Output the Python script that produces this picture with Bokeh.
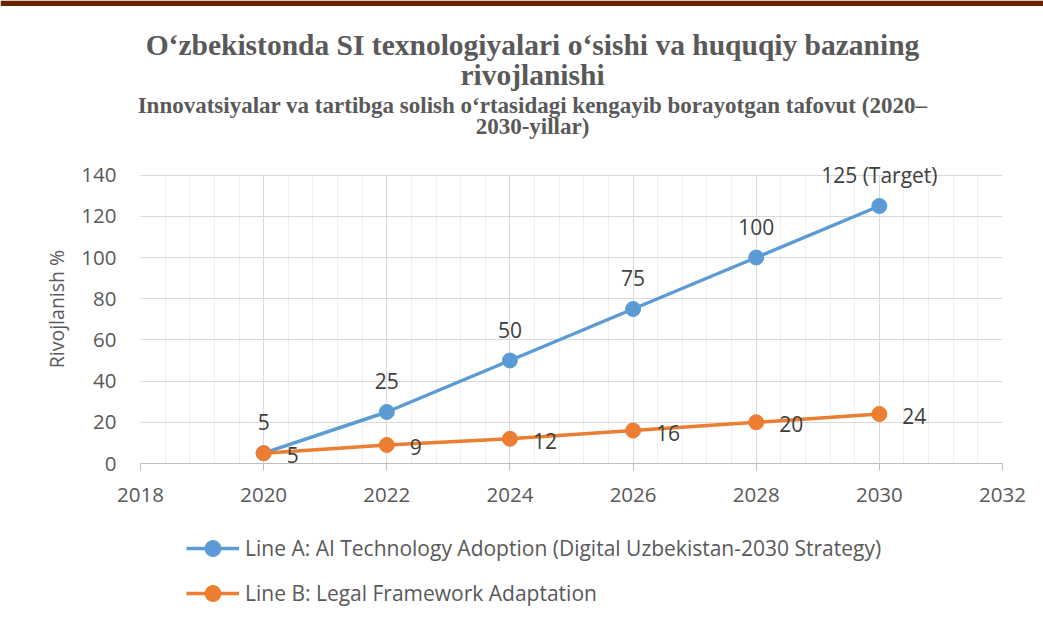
from bokeh.plotting import figure
from bokeh.models import (ColumnDataSource, LabelSet, Label, Legend, LegendItem,
                          SingleIntervalTicker, Range1d, BoxAnnotation)
from bokeh.core.properties import value
from bokeh.layouts import column
from bokeh.embed import file_html
from bokeh.resources import INLINE

years = [2020, 2022, 2024, 2026, 2028, 2030]
line_a = [5, 25, 50, 75, 100, 125]
line_b = [5, 9, 12, 16, 20, 24]
labels_a = ["5", "25", "50", "75", "100", "125 (Target)"]
labels_b = ["5", "9", "12", "16", "20", "24"]
name_a = "Line A: AI Technology Adoption (Digital Uzbekistan-2030 Strategy)"
name_b = "Line B: Legal Framework Adaptation"
title_lines = ["O\u2018zbekistonda SI texnologiyalari o\u2018sishi va huquqiy bazaning",
               "rivojlanishi"]
subtitle_lines = ["Innovatsiyalar va tartibga solish o\u2018rtasidagi kengayib borayotgan tafovut (2020\u2013",
                  "2030-yillar)"]
y_label = "Rivojlanish %"

FONT = "Open Sans"
SERIF = "Liberation Serif"
GREY = "#595959"
BLUE = "#5b9bd5"
ORANGE = "#ed7d31"

src_a = ColumnDataSource(dict(x=years, y=line_a, lab=labels_a))
src_b = ColumnDataSource(dict(x=years, y=line_b, lab=labels_b))

FRAME_LEFT = 140
FRAME_RIGHT = 41
unaligned = True


def blank(height):
    global unaligned
    f = figure(width=1043, height=height, output_backend="svg", toolbar_location=None,
               min_border=0, x_axis_type=None, y_axis_type=None,
               x_range=Range1d(0, 1), y_range=Range1d(0, 1))
    f.outline_line_color = None
    f.grid.visible = False
    f.background_fill_color = "white"
    f.border_fill_color = "white"
    try:
        f.frame_align = False
    except Exception:
        unaligned = False
    return f


# ---- title block ----
TH = 150
tfig = blank(TH)
X0 = 0 if unaligned else FRAME_LEFT
tfig.add_layout(BoxAnnotation(top=TH, bottom=TH - 5.5, top_units="screen", bottom_units="screen",
                              fill_color="#6a2400", fill_alpha=1, line_color=None))
for txt, base, size in [(title_lines[0], 44, "29.5px"), (title_lines[1], 74, "29.5px"),
                        (subtitle_lines[0], 105, "23px"), (subtitle_lines[1], 126, "23px")]:
    tfig.add_layout(Label(x=532 - X0, y=TH - base, x_units="screen", y_units="screen", text=txt,
                          text_align="center", text_baseline="alphabetic", text_font=SERIF,
                          text_font_style="bold", text_font_size=size, text_color=GREY))

# ---- main chart ----
MH = 365  # page rows 150..515
p = figure(width=1043, height=MH, x_range=Range1d(2018, 2032), y_range=Range1d(0, 150),
           output_backend="svg", toolbar_location=None, title=None,
           min_border_left=FRAME_LEFT, min_border_right=FRAME_RIGHT, min_border_top=4,
           min_border_bottom=52)
p.outline_line_color = None
p.background_fill_color = "white"
p.border_fill_color = "white"

p.xaxis.ticker = SingleIntervalTicker(interval=2, num_minor_ticks=5)
p.yaxis.ticker = SingleIntervalTicker(interval=20, num_minor_ticks=0)
p.xgrid.grid_line_color = "#d9d9d9"
p.xgrid.minor_grid_line_color = "#f0f0f0"
p.ygrid.grid_line_color = "#d9d9d9"
try:
    p.xgrid.cross_bounds = (0, 140)
except Exception:
    pass

for ax in (p.xaxis[0], p.yaxis[0]):
    ax.major_label_text_font = FONT
    ax.major_label_text_font_size = "20.5px"
    ax.major_label_text_color = GREY
    ax.minor_tick_line_color = None

p.xaxis.axis_line_color = "#bfbfbf"
p.xaxis.major_tick_line_color = "#bfbfbf"
p.xaxis.major_tick_out = 7
p.xaxis.major_tick_in = 0
p.xaxis.major_label_standoff = 17

p.yaxis.axis_line_color = None
p.yaxis.major_tick_line_color = None
p.yaxis.major_label_standoff = 18
p.yaxis.axis_label = y_label
p.yaxis.axis_label_text_font = FONT
p.yaxis.axis_label_text_font_size = "19.5px"
p.yaxis.axis_label_text_font_style = "normal"
p.yaxis.axis_label_text_color = GREY
p.yaxis.axis_label_standoff = 8

p.line("x", "y", source=src_a, line_color=BLUE, line_width=3.5)
p.scatter("x", "y", source=src_a, size=15, fill_color=BLUE, line_color=BLUE)
p.line("x", "y", source=src_b, line_color=ORANGE, line_width=3.5)
p.scatter("x", "y", source=src_b, size=15, fill_color=ORANGE, line_color=ORANGE)

p.add_layout(LabelSet(x="x", y="y", text="lab", source=src_a, text_align="center",
                      text_baseline="middle", y_offset=31, text_font=value(FONT),
                      text_font_size=value("21px"), text_color="#404040"))
p.add_layout(LabelSet(x="x", y="y", text="lab", source=src_b, text_align="left",
                      text_baseline="middle", x_offset=23, y_offset=-2, text_font=value(FONT),
                      text_font_size=value("21px"), text_color="#404040"))

# ---- legend block (series drawn out of view, only their legend glyphs show) ----
LH = 622 - TH - MH
lfig = blank(LH)
ra = [lfig.line("x", "y", source=src_a, line_color=BLUE, line_width=3.5),
      lfig.scatter("x", "y", source=src_a, size=15, fill_color=BLUE, line_color=BLUE)]
rb = [lfig.line("x", "y", source=src_b, line_color=ORANGE, line_width=3.5),
      lfig.scatter("x", "y", source=src_b, size=15, fill_color=ORANGE, line_color=ORANGE)]
legend = Legend(items=[LegendItem(label=name_a, renderers=ra),
                       LegendItem(label=name_b, renderers=rb)],
                location=(186 - X0, LH - (593 - 515) - 20), orientation="vertical",
                glyph_width=53, glyph_height=40, label_standoff=6, spacing=5, padding=0,
                margin=0, border_line_color=None, background_fill_alpha=0,
                label_text_font=FONT, label_text_font_size="21px",
                label_text_color=GREY, label_height=20)
lfig.add_layout(legend)

layout = column(tfig, p, lfig, spacing=0)
open("out.html", "w").write(file_html(layout, INLINE))
